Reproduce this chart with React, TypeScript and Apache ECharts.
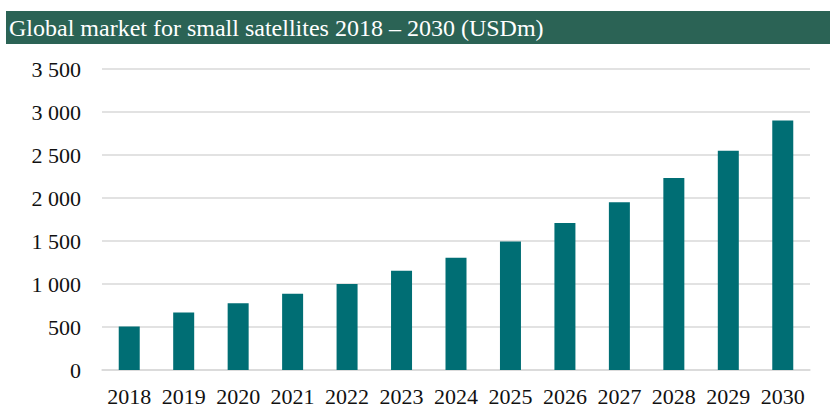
import React, { useEffect, useRef } from "react";
import * as echarts from "echarts";

const titleText = "Global market for small satellites 2018 – 2030 (USDm)";
const years = ["2018", "2019", "2020", "2021", "2022", "2023", "2024", "2025", "2026", "2027", "2028", "2029", "2030"];
const marketValues = [505, 670, 775, 888, 1000, 1155, 1305, 1495, 1710, 1950, 2233, 2549, 2900];

const fmt = (v: number) => {
  const s = String(Math.round(v));
  return s.replace(/\B(?=(\d{3})+(?!\d))/g, " ");
};

export default function App() {
  const ref = useRef<HTMLDivElement>(null);
  useEffect(() => {
    if (!ref.current) return;
    const chart = echarts.init(ref.current, null, { renderer: "svg" });
    chart.setOption({
      animation: false,
      backgroundColor: "#ffffff",
      textStyle: { fontFamily: "Liberation Serif" },
      graphic: [
        {
          type: "rect",
          shape: { x: 6, y: 11, width: 824, height: 33 },
          style: { fill: "#2B6355" },
        },
        {
          type: "text",
          x: 9,
          y: 28,
          style: {
            text: titleText,
            fill: "#ffffff",
            font: '24px "Liberation Serif"',
            verticalAlign: "middle",
          },
        },
      ],
      grid: { left: 102, right: 20, top: 69, bottom: 36, containLabel: false },
      xAxis: {
        type: "category",
        data: years,
        axisLine: { show: true, lineStyle: { color: "#d9d9d9", width: 1.5 } },
        axisTick: { show: false },
        axisLabel: { interval: 0, color: "#111", fontSize: 22, fontFamily: "Liberation Serif", margin: 15 },
      },
      yAxis: {
        type: "value",
        min: 0,
        max: 3500,
        interval: 500,
        axisLine: { show: false },
        axisTick: { show: false },
        splitLine: { lineStyle: { color: "#d9d9d9", width: 1.5 } },
        axisLabel: {
          color: "#111",
          fontSize: 22,
          fontFamily: "Liberation Serif",
          margin: 21,
          formatter: (v: number) => fmt(v),
        },
      },
      series: [
        {
          type: "bar",
          data: marketValues,
          barWidth: 21,
          itemStyle: { color: "#006E74" },
        },
      ],
    });
    return () => chart.dispose();
  }, []);
  return (
    <div
      ref={ref}
      style={{ position: "fixed", left: 0, top: 0, width: 830, height: 407 }}
    />
  );
}
